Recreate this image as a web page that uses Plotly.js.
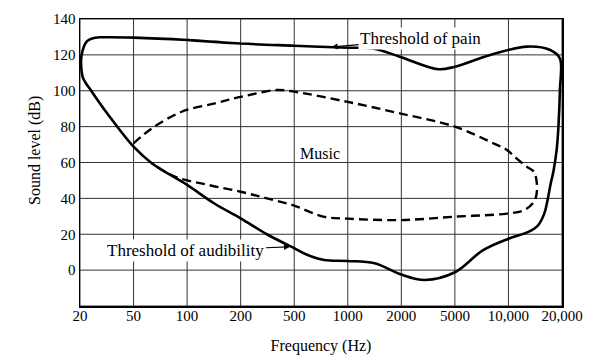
<!DOCTYPE html>
<html>
<head>
<meta charset="utf-8">
<script src="https://cdn.plot.ly/plotly-3.0.1.min.js"></script>
<style>html,body{margin:0;padding:0;background:#fff;}#chart{width:591px;height:359px;}</style>
</head>
<body>
<div id="chart"></div>
<script>
// Tick frequencies (equally spaced on the original chart) and labels
const tickHz = [20, 50, 100, 200, 500, 1000, 2000, 5000, 10000, 20000];
const tickLabels = ['20', '50', '100', '200', '500', '1000', '2000', '5000', '10,000', '20,000'];
const dbTicks = [0, 20, 40, 60, 80, 100, 120, 140];
const dbGrid = [-20, 0, 20, 40, 60, 80, 100, 120, 140];

// Closed region: threshold of pain (top) and threshold of audibility (bottom)
const thresholdHz = [100, 200, 500, 1000, 1385, 1959, 3764, 5000, 7900, 12746, 17171, 19453,
  19453, 19100, 18661, 17900, 17291, 16586, 15900, 14670, 13030, 10000, 7170, 5000, 2993, 2000,
  1414, 1000, 738, 595, 500, 313, 200, 143, 100, 63.3, 50, 32.5, 24.5, 21.1, 20.4, 20.56, 22.4,
  25.85, 30.8, 50, 100, 200];
const thresholdDb = [128.3, 126.3, 125.1, 124, 123.6, 119, 112, 113.4, 120, 124.6, 122.7, 118,
  100, 80, 67, 55, 48.4, 39, 31.5, 25, 21.5, 17.5, 11, -1.2, -5.5, -2.5,
  3.8, 5.1, 5.6, 8.4, 12.2, 20, 28.9, 37, 47.5, 59.6, 68.8, 86.5, 99.5, 107, 114, 120, 127.4,
  129.6, 129.8, 129.6, 128.3, 126.3];

// Music region (dashed)
const musicHz = [50, 63.3, 93.3, 143.4, 203.7, 369.5, 500, 986, 1959, 5000, 8236, 9793, 11096,
  12657, 13900, 14439, 14300, 13700, 12300, 9793, 5000, 2000, 1000, 727, 500, 313, 200, 131.5, 85.5, 63.3];
const musicDb = [70.7, 79, 88.3, 93, 96.7, 100.4, 99.5, 93.9, 87.4, 80, 70.7, 67, 62.3,
  57.7, 54.9, 48.4, 41, 37.3, 33.5, 31.5, 29.8, 27.9, 28.7, 29.8, 36, 40, 43.7, 47.5, 52.1, 59.6];

// Map a frequency to the chart's (piecewise-logarithmic, equally spaced) horizontal scale
function hzToPos(hz) {
  for (let k = 0; k < tickHz.length - 1; k++) {
    if (hz <= tickHz[k + 1] || k === tickHz.length - 2) {
      return k + Math.log(hz / tickHz[k]) / Math.log(tickHz[k + 1] / tickHz[k]);
    }
  }
}

const serif = 'Liberation Serif, Times New Roman, serif';
const gridStyle = {color: '#333', width: 1};

const gridShapes = tickHz.map(hz => ({
  type: 'line', layer: 'below', xref: 'x', yref: 'paper',
  x0: hzToPos(hz), x1: hzToPos(hz), y0: 0, y1: 1, line: gridStyle
})).concat(dbGrid.map(db => ({
  type: 'line', layer: 'below', xref: 'paper', yref: 'y',
  x0: 0, x1: 1, y0: db, y1: db, line: gridStyle
})));

const traces = [
  {
    x: thresholdHz.map(hzToPos), y: thresholdDb, type: 'scatter', mode: 'lines',
    line: {color: '#000', width: 2.6, shape: 'spline', smoothing: 1}, hoverinfo: 'skip'
  },
  {
    x: musicHz.map(hzToPos), y: musicDb, type: 'scatter', mode: 'lines',
    line: {color: '#000', width: 2.4, shape: 'spline', smoothing: 1, dash: '9px,5px'}, hoverinfo: 'skip'
  }
];

const layout = {
  width: 591, height: 359,
  margin: {l: 80, r: 29, t: 19, b: 53},
  paper_bgcolor: '#fff', plot_bgcolor: '#fff',
  showlegend: false,
  font: {family: serif, color: '#000', size: 15},
  xaxis: {
    range: [0, 9], tickmode: 'array', tickvals: tickHz.map(hzToPos), ticktext: tickLabels,
    showgrid: false, zeroline: false,
    showline: true, mirror: true, linecolor: '#000', linewidth: 1.5,
    ticks: '', ticklabelstandoff: -5, tickfont: {family: serif, size: 15, color: '#000'},
    title: {text: 'Frequency (Hz)', font: {family: serif, size: 16, color: '#000'}, standoff: 17}
  },
  yaxis: {
    range: [-20, 140], tickmode: 'array', tickvals: dbTicks, ticktext: dbTicks.map(String),
    showgrid: false, zeroline: false,
    showline: true, mirror: true, linecolor: '#000', linewidth: 1.5,
    ticks: '', tickfont: {family: serif, size: 15, color: '#000'}
  },
  shapes: gridShapes,
  annotations: [
    {
      xref: 'paper', yref: 'paper', x: (35 - 80) / 482, y: (306 - 151) / 287,
      xanchor: 'center', yanchor: 'middle',
      text: 'Sound level (dB)', textangle: -90, showarrow: false,
      font: {family: serif, size: 16, color: '#000'}
    },
    {
      x: hzToPos(812), y: 124.4, text: 'Threshold of pain', showarrow: true,
      ax: 89, ay: -8, arrowhead: 2, arrowsize: 1, arrowwidth: 1.2, arrowcolor: '#000',
      bgcolor: '#fff', borderpad: 1, font: {family: serif, size: 17, color: '#000'}
    },
    {
      x: hzToPos(465), y: 13, text: 'Threshold of audibility', showarrow: true,
      ax: -104, ay: 4, arrowhead: 2, arrowsize: 1, arrowwidth: 1.2, arrowcolor: '#000',
      bgcolor: '#fff', borderpad: 1, font: {family: serif, size: 17, color: '#000'}
    },
    {
      x: hzToPos(700), y: 65, text: 'Music', showarrow: false,
      font: {family: serif, size: 16, color: '#000'}
    }
  ]
};

Plotly.newPlot('chart', traces, layout, {displayModeBar: false, staticPlot: true});
</script>
</body>
</html>
